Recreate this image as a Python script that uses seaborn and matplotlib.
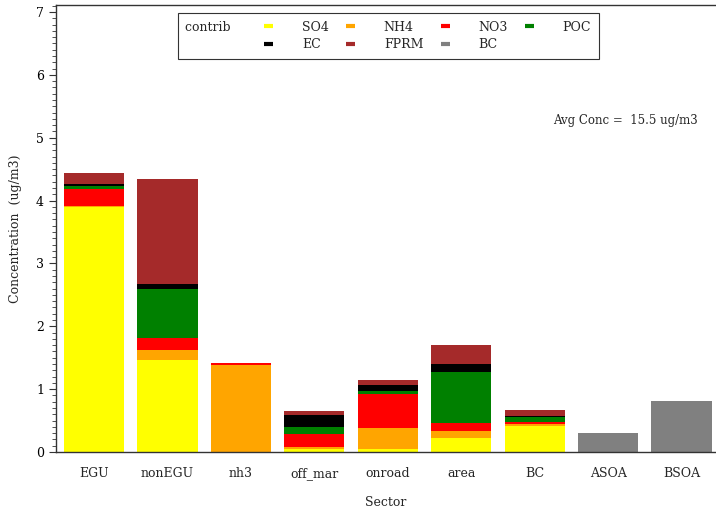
import numpy as np
import pandas as pd
import matplotlib
matplotlib.use("Agg")
import matplotlib.pyplot as plt
from matplotlib.lines import Line2D
from matplotlib.ticker import MultipleLocator
import seaborn as sns

# Source sectors and species contributions (ug/m3)
sectors = ["EGU", "nonEGU", "nh3", "off_mar", "onroad", "area", "BC", "ASOA", "BSOA"]
contribs = ["SO4", "NH4", "NO3", "POC", "EC", "FPRM", "BC"]
colors = ["#ffff00", "#ffa500", "#ff0000", "#008000", "#000000", "#a52a2a", "#808080"]

so4  = [3.90, 1.47, 0.00, 0.05, 0.05, 0.23, 0.42, 0.00, 0.00]
nh4  = [0.01, 0.15, 1.39, 0.03, 0.33, 0.10, 0.03, 0.00, 0.00]
no3  = [0.28, 0.19, 0.02, 0.20, 0.55, 0.13, 0.03, 0.00, 0.00]
poc  = [0.04, 0.79, 0.00, 0.12, 0.04, 0.82, 0.08, 0.00, 0.00]
ec   = [0.03, 0.07, 0.00, 0.19, 0.09, 0.12, 0.02, 0.00, 0.00]
fprm = [0.18, 1.67, 0.00, 0.06, 0.08, 0.30, 0.09, 0.00, 0.00]
bc   = [0.00, 0.00, 0.00, 0.00, 0.00, 0.00, 0.00, 0.30, 0.81]

df = pd.DataFrame({"SO4": so4, "NH4": nh4, "NO3": no3, "POC": poc,
                   "EC": ec, "FPRM": fprm, "BC": bc}, index=sectors)
cum = df[contribs].cumsum(axis=1)
avg_conc = df.values.sum()

sns.set_style("white")
plt.rcParams["font.family"] = ["DejaVu Serif"]
plt.rcParams["font.size"] = 9

fig = plt.figure(figsize=(7.16, 5.16), dpi=100)
ax = fig.add_axes([0.078, 0.124, 0.921, 0.866])

# Stacked bars: draw cumulative totals from the top layer down
for name, col in reversed(list(zip(contribs, colors))):
    sns.barplot(x=cum.index, y=cum[name].values, order=sectors, color=col,
                saturation=1, width=0.82, errorbar=None, ax=ax, linewidth=0)

ax.set_xlim(-0.52, 8.46)
ax.set_ylim(0, 7.11)
ax.yaxis.set_major_locator(MultipleLocator(1))
ax.yaxis.set_minor_locator(MultipleLocator(0.1))
ax.tick_params(axis="y", which="major", direction="out", length=5, width=0.8,
               left=True, labelsize=9, colors="#333333", labelcolor="black")
ax.tick_params(axis="y", which="minor", direction="out", length=3, width=0.6,
               left=True, colors="#333333")
ax.tick_params(axis="x", length=0, labelsize=9, pad=11)

for s in ["left", "bottom", "top"]:
    ax.spines[s].set_visible(True)
    ax.spines[s].set_color("#333333")
    ax.spines[s].set_linewidth(1.0)
ax.spines["right"].set_visible(False)

ax.set_xlabel("Sector", fontsize=9, labelpad=11)
ax.set_ylabel("Concentration  (ug/m3)", fontsize=9, labelpad=10)

ax.text(0.973, 0.743, f"Avg Conc =  {avg_conc:.1f} ug/m3", transform=ax.transAxes,
        ha="right", va="center", fontsize=8.5)

# Legend: title entry, then species markers filled column by column
entries = list(zip(contribs, colors))
order = [None, entries[0], entries[4], entries[1], entries[5],
         entries[2], entries[6], entries[3], None]
handles = [Line2D([], [], linestyle="none")]
labels = ["contrib    "]
for e in order:
    if e is None:
        handles.append(Line2D([], [], linestyle="none"))
        labels.append("")
    else:
        handles.append(Line2D([], [], color=e[1], linewidth=3, solid_capstyle="butt"))
        labels.append(e[0])
leg = ax.legend(handles, labels, ncol=5, loc="upper left", bbox_to_anchor=(0.185, 0.982),
                borderaxespad=0, frameon=True, fancybox=False, edgecolor="#333333",
                framealpha=1, handlelength=0.7, handletextpad=2.3, columnspacing=1.4,
                borderpad=0.6, labelspacing=0.35, fontsize=9)
leg.get_frame().set_linewidth(0.8)

# The "contrib" column carries no marker: collapse its handle slot
first_col = leg._legend_handle_box.get_children()[0]
for row in first_col.get_children():
    row.sep = 0
    row.get_children()[0].width = 0

fig.savefig("out.png", dpi=100)
